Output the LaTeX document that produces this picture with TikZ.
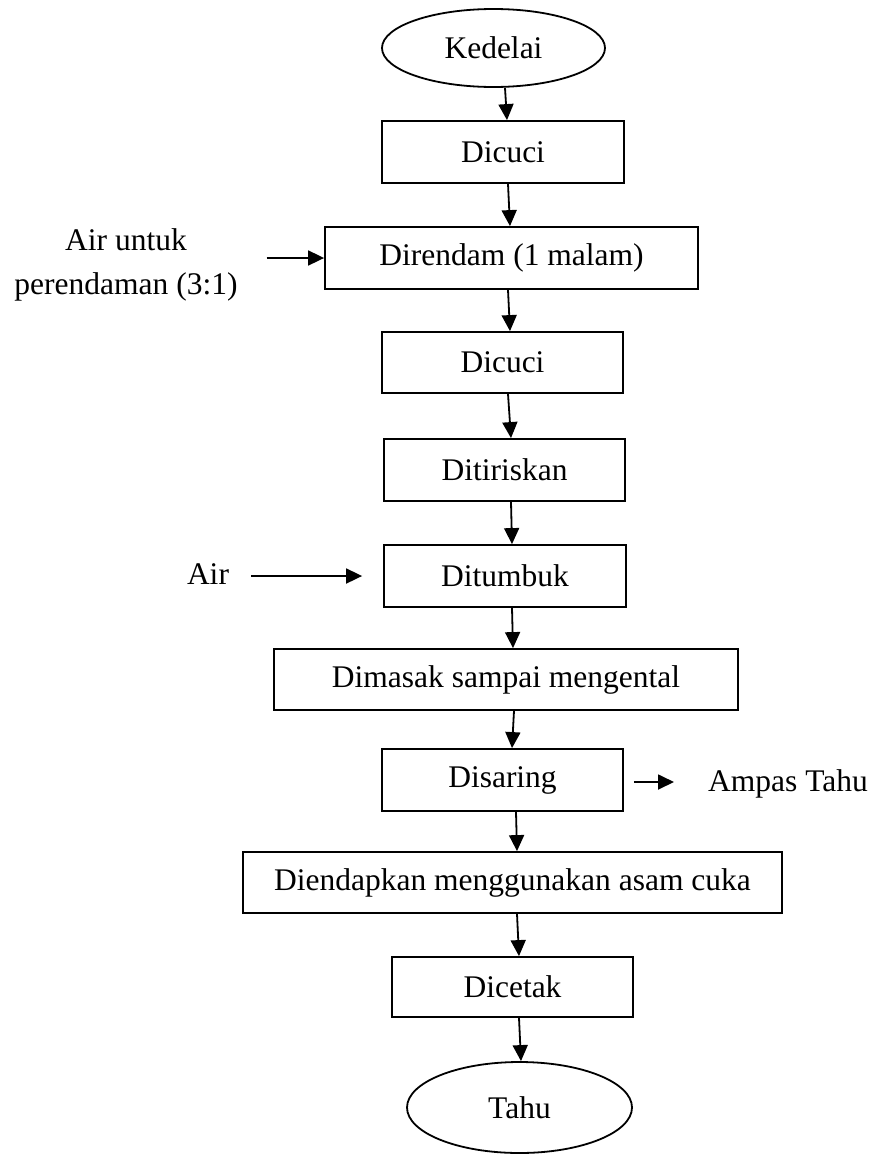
\documentclass[tikz,border=0pt]{standalone}
\usepackage{fontspec}
\setmainfont{Liberation Serif}
\usetikzlibrary{shapes.geometric,arrows.meta,calc}
\begin{document}
\begin{tikzpicture}[x=1bp,y=-1bp,
  base/.style={draw=black,line width=1.8bp,inner sep=0pt,font=\fontsize{31.5bp}{44bp}\selectfont},
  procbox/.style={base,rectangle},
  termin/.style={base,ellipse},
  label/.style={inner sep=0pt,font=\fontsize{31.5bp}{44bp}\selectfont},
  arr/.style={line width=1.8bp,-{Triangle[length=16bp,width=15bp]}}]
\useasboundingbox (0,0) rectangle (874,1154);
\node[termin,minimum width=223bp,minimum height=78bp] (kedelai) at (493.5,48) {Kedelai};
\node[procbox,minimum width=242bp,minimum height=62bp] (dicuci1) at (503,152) {Dicuci};
\node[procbox,minimum width=373bp,minimum height=62bp] (direndam) at (511.5,258) {Direndam (1 malam)};
\node[procbox,minimum width=241bp,minimum height=61bp] (dicuci2) at (502.5,362.5) {Dicuci};
\node[procbox,minimum width=241bp,minimum height=62bp] (ditiriskan) at (504.5,470) {Ditiriskan};
\node[procbox,minimum width=242bp,minimum height=62bp] (ditumbuk) at (505,576) {Ditumbuk};
\node[procbox,minimum width=464bp,minimum height=61bp] (dimasak) at (506,679.5) {Dimasak sampai mengental};
\node[procbox,minimum width=241bp,minimum height=62bp] (disaring) at (502.5,780) {Disaring};
\node[procbox,minimum width=539bp,minimum height=61bp] (diendapkan) at (512.5,882.5) {Diendapkan menggunakan asam cuka};
\node[procbox,minimum width=241bp,minimum height=60bp] (dicetak) at (512.5,987) {Dicetak};
\node[termin,minimum width=225bp,minimum height=91bp] (tahu) at (519.5,1107.5) {Tahu};

\node[label,align=center] (airrend) at (126,265) {Air untuk\\perendaman (3:1)};
\node[label,anchor=base] (air) at (208,584) {Air};
\node[label,anchor=base west] (ampas) at (708,791) {Ampas Tahu};

\draw[arr] ([xshift=11.5bp]kedelai.south) -- ([xshift=4bp]dicuci1.north);
\draw[arr] ([xshift=5bp]dicuci1.south) -- ([xshift=-1.5bp]direndam.north);
\draw[arr] ([xshift=-3.5bp]direndam.south) -- ([xshift=7.5bp]dicuci2.north);
\draw[arr] ([xshift=5.5bp]dicuci2.south) -- ([xshift=6.5bp]ditiriskan.north);
\draw[arr] ([xshift=6.5bp]ditiriskan.south) -- ([xshift=7bp]ditumbuk.north);
\draw[arr] ([xshift=7bp]ditumbuk.south) -- ([xshift=7bp]dimasak.north);
\draw[arr] ([xshift=8bp]dimasak.south) -- ([xshift=9.5bp]disaring.north);
\draw[arr] ([xshift=13.5bp]disaring.south) -- ([xshift=4.5bp]diendapkan.north);
\draw[arr] ([xshift=4.5bp]diendapkan.south) -- ([xshift=6.5bp]dicetak.north);
\draw[arr] ([xshift=6.5bp]dicetak.south) -- ([xshift=1.5bp]tahu.north);

\draw[arr] ($(airrend.east |- direndam.west)+(29,0)$) -- (direndam.west);
\draw[arr,shorten >=21bp] ($(air.east |- ditumbuk.west)+(22,0)$) -- (ditumbuk.west);
\draw[arr,shorten <=10bp,shorten >=34bp] ([yshift=-2bp]disaring.east) -- ([yshift=-2bp]disaring.east -| ampas.west);
\end{tikzpicture}
\end{document}
